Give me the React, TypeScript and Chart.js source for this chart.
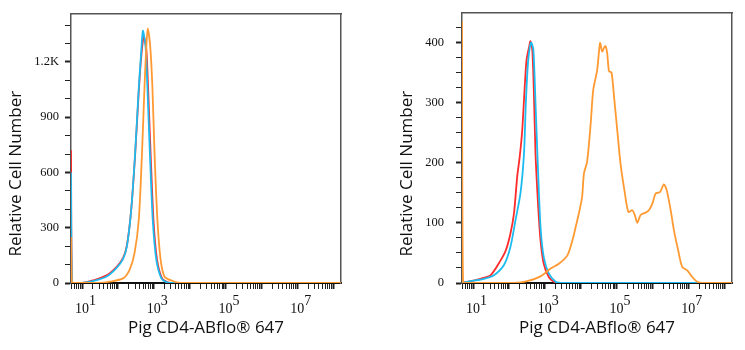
import React, { useEffect, useRef } from "react";
import { Chart, registerables } from "chart.js";

Chart.register(...registerables);

// ---------- shared axis data ----------
const X_MIN = 0.69; // log10 decades
const X_MAX = 8.22;
const X_TITLE = "Pig CD4-ABflo® 647";
const Y_TITLE = "Relative Cell Number";
const LABELED_DECADES = [1, 3, 5, 7];

// ---------- left panel ----------
const leftYMax = 1460;
const leftYMajor = [0, 300, 600, 900, 1200];
const leftYMajorLabels = ["0", "300", "600", "900", "1.2K"];
const leftYMinorStep = 100;

const leftRedX = [0.69, 0.72, 1.0, 1.3, 1.67, 1.95, 2.14, 2.25, 2.37, 2.48, 2.58, 2.65, 2.72, 2.79, 2.84, 2.91, 2.99, 3.09, 3.23, 3.38, 3.55, 8.22];
const leftRedY = [720, 0, 0, 14, 40, 85, 135, 205, 400, 700, 1040, 1230, 1336, 1270, 1060, 704, 342, 125, 25, 5, 0, 0];

const leftBlueX = [0.69, 0.72, 1.0, 1.3, 1.67, 1.95, 2.14, 2.25, 2.37, 2.48, 2.58, 2.65, 2.695, 2.77, 2.82, 2.89, 2.97, 3.07, 3.21, 3.35, 3.5, 8.22];
const leftBlueY = [600, 0, 0, 10, 34, 80, 130, 200, 400, 710, 1060, 1260, 1369, 1282, 1065, 704, 342, 125, 25, 5, 0, 0];

const leftOrangeX = [0.69, 0.72, 1.5, 1.77, 2.14, 2.32, 2.46, 2.58, 2.67, 2.74, 2.79, 2.83, 2.9, 2.96, 3.02, 3.1, 3.19, 3.3, 3.53, 3.77, 8.22];
const leftOrangeY = [250, 0, 0, 7, 25, 70, 161, 342, 704, 1065, 1282, 1382, 1282, 1065, 704, 342, 125, 34, 11, 0, 0];

// ---------- right panel ----------
const rightYMax = 449;
const rightYMajor = [0, 100, 200, 300, 400];
const rightYMajorLabels = ["0", "100", "200", "300", "400"];
const rightYMinorStep = 25;

const rightRedX = [0.69, 0.93, 1.21, 1.49, 1.77, 1.91, 2.04, 2.14, 2.23, 2.3, 2.37, 2.44, 2.49, 2.56, 2.6, 2.65, 2.69, 2.74, 2.81, 2.88, 2.97, 3.11, 3.25, 3.4, 8.22];
const rightRedY = [0, 3, 7, 13, 38, 54, 82, 116, 177, 210, 254, 327, 371, 392, 402, 388, 327, 216, 132, 71, 32, 10, 2, 0, 0];

const rightBlueX = [0.69, 0.93, 1.3, 1.58, 1.86, 2.04, 2.18, 2.32, 2.42, 2.47, 2.53, 2.58, 2.62, 2.68, 2.74, 2.81, 2.88, 2.97, 3.11, 3.3, 3.45, 8.22];
const rightBlueY = [0, 3, 7, 13, 30, 60, 104, 149, 216, 299, 366, 392, 400, 388, 299, 188, 93, 43, 16, 2, 0, 0];

const rightOrangeX = [0.69, 0.72, 2.14, 2.51, 2.88, 3.16, 3.39, 3.63, 3.77, 3.86, 3.95, 4.04, 4.09, 4.18, 4.28, 4.35, 4.46, 4.54, 4.6, 4.65, 4.69, 4.74, 4.79, 4.86, 4.93, 5.02, 5.11, 5.22, 5.33, 5.44, 5.51, 5.58, 5.67, 5.81, 5.9, 6.0, 6.09, 6.21, 6.32, 6.4, 6.51, 6.6, 6.72, 6.83, 6.97, 7.11, 7.25, 7.39, 8.22];
const rightOrangeY = [435, 0, 0, 3, 11, 24, 32, 46, 71, 93, 116, 143, 182, 202, 266, 321, 354, 399, 385, 391, 394, 382, 352, 350, 310, 254, 199, 154, 118, 121, 113, 100, 113, 117, 121, 132, 149, 151, 164, 154, 121, 88, 54, 27, 21, 10, 2, 0, 0];

const RED = "#ff2a2a";
const BLUE = "#1cbcf0";
const ORANGE = "#ff9a33";

type PanelCfg = {
  yMax: number;
  yMajor: number[];
  yMajorLabels: string[];
  yMinorStep: number;
  series: { x: number[]; y: number[]; color: string }[];
  padding: { left: number; top: number; right: number; bottom: number };
  yAxisWidth: number;
  xAxisHeight: number;
  yTickPadding: number;
};

function xTickValues(): number[] {
  const out: number[] = [];
  for (let n = 0; n <= 9; n++) {
    for (let k = 1; k <= 9; k++) {
      const v = k === 1 ? n : n + Math.log10(k);
      if (v >= X_MIN && v <= X_MAX) out.push(v);
    }
  }
  return out;
}

function isInt(v: number) {
  return Math.abs(v - Math.round(v)) < 1e-6;
}

function buildChart(canvas: HTMLCanvasElement, cfg: PanelCfg) {
  const yTicks: number[] = [];
  for (let v = 0; v < cfg.yMax; v += cfg.yMinorStep) yTicks.push(v);

  const datasets = cfg.series.map((s) => ({
    data: s.x.map((x, i) => ({ x, y: s.y[i] })),
    borderColor: s.color,
    backgroundColor: s.color,
    borderWidth: 1.8,
    pointRadius: 0,
    tension: 0.25,
    fill: false,
  }));

  return new Chart(canvas, {
    type: "line",
    data: { datasets },
    options: {
      animation: false,
      responsive: false,
      devicePixelRatio: 1,
      layout: { padding: cfg.padding },
      plugins: { legend: { display: false }, tooltip: { enabled: false } },
      scales: {
        x: {
          type: "linear",
          position: "bottom",
          min: X_MIN,
          max: X_MAX,
          afterBuildTicks: (scale: any) => {
            scale.ticks = xTickValues().map((v) => ({ value: v, major: isInt(v) }));
          },
          afterFit: (scale: any) => {
            scale.height = cfg.xAxisHeight;
            scale.paddingLeft = 0;
            scale.paddingRight = 0;
          },
          ticks: {
            autoSkip: false,
            maxRotation: 0,
            minRotation: 0,
            padding: 8,
            color: "#111",
            font: { family: "Liberation Serif", size: 14, lineHeight: 0.6 },
            callback: (value: any) => {
              const v = Number(value);
              const r = Math.round(v);
              if (isInt(v) && LABELED_DECADES.includes(r)) return ["      " + r, "10"];
              return "";
            },
          },
          grid: {
            drawOnChartArea: false,
            drawTicks: true,
            tickLength: 6,
            tickColor: "#222",
            tickWidth: (ctx: any) => (ctx.tick && isInt(ctx.tick.value) ? 2 : 1),
          },
          border: { display: true, color: "#111", width: 2 },
          title: {
            display: true,
            text: X_TITLE,
            color: "#111",
            font: { family: "Open Sans", size: 17 },
            padding: { top: 4, bottom: 4 },
          },
        },
        y: {
          type: "linear",
          position: "left",
          min: 0,
          max: cfg.yMax,
          afterBuildTicks: (scale: any) => {
            scale.ticks = yTicks.map((v) => ({ value: v, major: cfg.yMajor.includes(v) }));
          },
          afterFit: (scale: any) => {
            scale.width = cfg.yAxisWidth;
            scale.paddingTop = 0;
            scale.paddingBottom = 0;
          },
          ticks: {
            autoSkip: false,
            padding: cfg.yTickPadding,
            color: "#111",
            font: { family: "Liberation Serif", size: 12.5 },
            callback: (value: any) => {
              const idx = cfg.yMajor.indexOf(Number(value));
              return idx >= 0 ? cfg.yMajorLabels[idx] : "";
            },
          },
          grid: {
            drawOnChartArea: false,
            drawTicks: true,
            tickLength: 6,
            tickColor: "#222",
            tickWidth: (ctx: any) => (ctx.tick && cfg.yMajor.includes(ctx.tick.value) ? 2 : 1),
          },
          border: { display: true, color: "#555", width: 1.5 },
          title: {
            display: true,
            text: "      " + Y_TITLE,
            align: "start",
            color: "#111",
            font: { family: "Open Sans", size: 17 },
            padding: { top: 4, bottom: 4 },
          },
        },
        xTop: {
          type: "linear",
          position: "top",
          min: 0,
          max: 1,
          afterFit: (scale: any) => {
            scale.height = 0;
          },
          ticks: { display: false },
          grid: { drawOnChartArea: false, drawTicks: false },
          border: { display: true, color: "#555", width: 1.5 },
        },
        yRight: {
          type: "linear",
          position: "right",
          min: 0,
          max: 1,
          afterFit: (scale: any) => {
            scale.width = 0;
          },
          ticks: { display: false },
          grid: { drawOnChartArea: false, drawTicks: false },
          border: { display: true, color: "#555", width: 1.5 },
        },
      },
    } as any,
  });
}

function Panel({ left, width, cfg }: { left: number; width: number; cfg: PanelCfg }) {
  const ref = useRef<HTMLCanvasElement | null>(null);
  useEffect(() => {
    if (!ref.current) return;
    const chart = buildChart(ref.current, cfg);
    return () => chart.destroy();
  }, []);
  return (
    <canvas
      ref={ref}
      width={width}
      height={350}
      style={{ position: "absolute", left, top: 0, width, height: 350 }}
    />
  );
}

const leftCfg: PanelCfg = {
  yMax: leftYMax,
  yMajor: leftYMajor,
  yMajorLabels: leftYMajorLabels,
  yMinorStep: leftYMinorStep,
  series: [
    { x: leftOrangeX, y: leftOrangeY, color: ORANGE },
    { x: leftBlueX, y: leftBlueY, color: BLUE },
    { x: leftRedX, y: leftRedY, color: RED },
  ],
  padding: { left: 2, top: 14, right: 31, bottom: 8 },
  yAxisWidth: 69,
  xAxisHeight: 59,
  yTickPadding: 6,
};

const rightCfg: PanelCfg = {
  yMax: rightYMax,
  yMajor: rightYMajor,
  yMajorLabels: rightYMajorLabels,
  yMinorStep: rightYMinorStep,
  series: [
    { x: rightOrangeX, y: rightOrangeY, color: ORANGE },
    { x: rightBlueX, y: rightBlueY, color: BLUE },
    { x: rightRedX, y: rightRedY, color: RED },
  ],
  padding: { left: 21, top: 13, right: 13, bottom: 8 },
  yAxisWidth: 69,
  xAxisHeight: 59,
  yTickPadding: 12,
};

export default function App() {
  return (
    <div style={{ position: "fixed", left: 0, top: 0, width: 745, height: 350, background: "#fff" }}>
      <Panel left={0} width={372} cfg={leftCfg} />
      <Panel left={372} width={373} cfg={rightCfg} />
    </div>
  );
}
